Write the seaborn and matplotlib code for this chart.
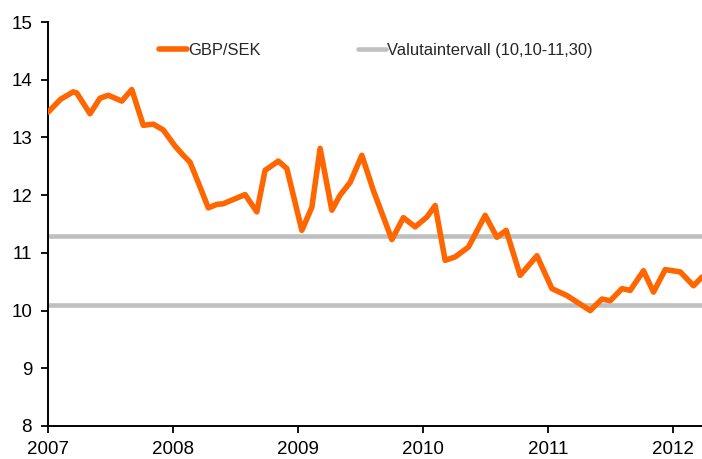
import matplotlib
matplotlib.use("Agg")
import matplotlib.pyplot as plt
import seaborn as sns
import pandas as pd

# Data (decimal year, GBP/SEK)
dates = [2007.002, 2007.10, 2007.202, 2007.23, 2007.336, 2007.416, 2007.482, 2007.59,
         2007.67, 2007.762, 2007.842, 2007.922, 2008.016, 2008.082, 2008.136, 2008.216,
         2008.282, 2008.35, 2008.40, 2008.576, 2008.67, 2008.736, 2008.842, 2008.91,
         2009.03, 2009.11, 2009.176, 2009.27, 2009.336, 2009.416, 2009.51, 2009.602,
         2009.75, 2009.842, 2009.936, 2010.03, 2010.096, 2010.176, 2010.256, 2010.362,
         2010.496, 2010.59, 2010.664, 2010.776, 2010.91, 2011.03, 2011.15, 2011.336,
         2011.43, 2011.496, 2011.59, 2011.656, 2011.762, 2011.842, 2011.936, 2012.056,
         2012.162, 2012.23]
gbpsek = [13.44, 13.66, 13.79, 13.77, 13.41, 13.68, 13.73, 13.63,
          13.83, 13.21, 13.23, 13.13, 12.85, 12.69, 12.57, 12.14,
          11.78, 11.84, 11.85, 12.01, 11.71, 12.43, 12.59, 12.46,
          11.39, 11.79, 12.81, 11.74, 12.00, 12.22, 12.69, 12.08,
          11.23, 11.61, 11.45, 11.62, 11.82, 10.87, 10.93, 11.10,
          11.65, 11.27, 11.39, 10.61, 10.95, 10.38, 10.26, 10.00,
          10.20, 10.17, 10.38, 10.35, 10.69, 10.32, 10.71, 10.67,
          10.43, 10.58]
band_low = 10.10
band_high = 11.30
year_ticks = [2007, 2008, 2009, 2010, 2011, 2012]
y_ticks = [8, 9, 10, 11, 12, 13, 14, 15]

sns.set_style("ticks")
plt.rcParams["font.family"] = ["Liberation Sans", "DejaVu Sans"]

fig = plt.figure(figsize=(7.02, 4.59), dpi=100)
ax = fig.add_axes([48/702, 1-426/459, 1-48/702, (426-22)/459])

df = pd.DataFrame({"date": dates, "value": gbpsek})
ax.axhline(band_high, color="#BFBFBF", lw=3.3, zorder=1, label="Valutaintervall (10,10-11,30)")
ax.axhline(band_low, color="#BFBFBF", lw=3.3, zorder=1)
sns.lineplot(data=df, x="date", y="value", ax=ax, color="#FF6600", lw=4.0,
             label="GBP/SEK", zorder=3, solid_joinstyle="round", solid_capstyle="round")

ax.set_xlim(2007, 2012.23)
ax.set_ylim(8, 15)
ax.set_xticks(year_ticks)
ax.set_xticklabels([str(y) for y in year_ticks])
ax.set_yticks(y_ticks)
ax.set_xlabel("")
ax.set_ylabel("")
for s in ["top", "right"]:
    ax.spines[s].set_visible(False)
for s in ["left", "bottom"]:
    ax.spines[s].set_linewidth(1.4)
    ax.spines[s].set_color("black")
ax.tick_params(axis="both", direction="out", length=5, width=1.3, labelsize=13.5, colors="black")
ax.tick_params(axis="y", pad=6.5)
ax.tick_params(axis="x", pad=6)

h, l = ax.get_legend_handles_labels()
order = [l.index("GBP/SEK"), l.index("Valutaintervall (10,10-11,30)")]
ax.legend([h[i] for i in order], [l[i] for i in order], loc="center", bbox_to_anchor=(0.5015, 0.93),
          ncol=2, frameon=False, fontsize=11.9, handlelength=1.65, handletextpad=0.1,
          columnspacing=5.9)

fig.savefig("out.png", dpi=100)
